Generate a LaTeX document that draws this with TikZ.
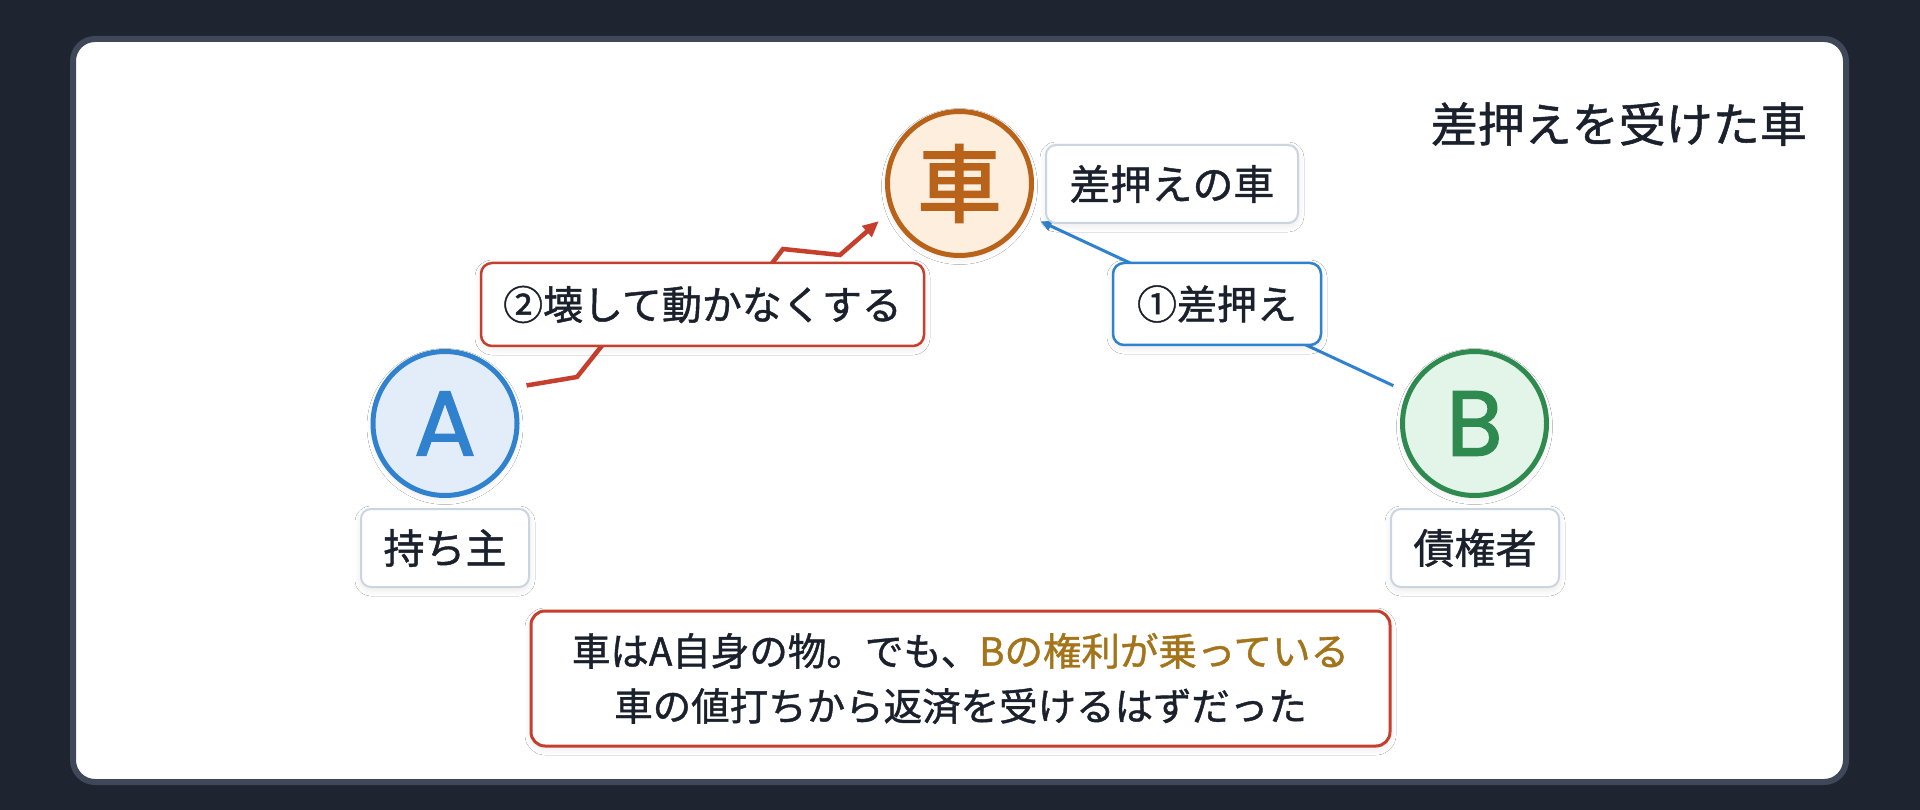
\documentclass[tikz,border=0pt]{standalone}
\usepackage{fontspec}
\setmainfont{Noto Sans CJK JP}[UprightFeatures={FakeBold=1.1}]
\newfontfamily\circcjk{Noto Sans CJK JP}[FakeBold=2.6]
\newfontfamily\circlat{Poppins}[FakeBold=1.6]
\usetikzlibrary{calc,arrows.meta,shadows.blur}
\definecolor{bgdark}{HTML}{1E2530}
\definecolor{panelbd}{HTML}{3E4858}
\definecolor{ink}{HTML}{1A202C}
\definecolor{carc}{HTML}{B9621A}
\definecolor{carfill}{HTML}{FDEEDD}
\definecolor{bluec}{HTML}{3182CE}
\definecolor{bluefill}{HTML}{E3EDF9}
\definecolor{greenc}{HTML}{2F8A50}
\definecolor{greenfill}{HTML}{E3F4E8}
\definecolor{redc}{HTML}{C53F2C}
\definecolor{labelbd}{HTML}{CBD5E1}
\definecolor{goldc}{HTML}{A3741A}
\tikzset{
  softshadow/.style={blur shadow={shadow blur steps=6, shadow xshift=0pt, shadow yshift=-3pt, shadow blur radius=6pt, shadow opacity=9}},
  circ/.style={circle, minimum size=144pt, inner sep=0pt, line width=5pt, softshadow},
  lbl/.style={rectangle, rounded corners=10pt, draw=labelbd, line width=2pt, fill=white, text=ink, font=\fontsize{41}{49}\selectfont, inner sep=0pt, softshadow},
  edgelbl/.style={rectangle, rounded corners=11pt, line width=2.5pt, fill=white, text=ink, font=\fontsize{40}{48}\selectfont, inner sep=0pt, softshadow},
  blueline/.style={draw=bluec, line width=3pt, -{Triangle[length=11pt,width=10pt]}},
  redline/.style={draw=redc, line width=4.5pt, -{Triangle[length=16pt,width=14pt]}},
}
\begin{document}
\begin{tikzpicture}[x=1pt,y=-1pt]
\useasboundingbox (0,0) rectangle (1920,810);
\fill[bgdark] (0,0) rectangle (1920,810);
\draw[panelbd, line width=6pt, fill=white, rounded corners=22pt] (73,39) rectangle (1846,782);

% title
\node[anchor=east, text=ink, font=\fontsize{47}{52}\selectfont, inner sep=0pt] (title) at (1807,124) {差押えを受けた車};

% circles
\node[circ, draw=carc, fill=carfill, text=carc, font=\circcjk\fontsize{84}{84}\selectfont] (car) at (959.5,183.5) {車};
\node[circ, draw=bluec, fill=bluefill, text=bluec, font=\circlat\fontsize{92}{92}\selectfont] (A) at (445,423.5) {A};
\node[circ, draw=greenc, fill=greenfill, text=greenc, font=\circlat\fontsize{92}{92}\selectfont] (B) at (1474.5,423.5) {B};

% connectors
\draw[blueline, shorten <=15pt, shorten >=15pt] (B) -- (car);
\coordinate (rs) at ($(A)!90pt!(car)$);
\coordinate (re) at ($(car)!89pt!(A)$);
\draw[redline] (rs) -- (577,377) -- (620,323) -- (750,292) -- (783,249) -- (840,255) -- (re);

% labels
\node[lbl, minimum width=252pt, minimum height=78pt] (carlbl) at (1172,184) {差押えの車};
\node[lbl, minimum width=168pt, minimum height=78pt] (Albl) at (445,548) {持ち主};
\node[lbl, minimum width=168pt, minimum height=78pt] (Blbl) at (1475,548) {債権者};
\node[edgelbl, draw=bluec, minimum width=208pt, minimum height=82pt] (e1) at (1217,304) {①差押え};
\node[edgelbl, draw=redc, minimum width=443pt, minimum height=83pt] (e2) at (702.5,304.5) {②壊して動かなくする};

% note
\node[rectangle, rounded corners=14pt, draw=redc, line width=3pt, fill=white, text=ink, minimum width=859pt, minimum height=135pt, align=center, inner sep=0pt, font=\fontsize{38.5}{55}\selectfont, softshadow] (note) at (960.5,678.5)
  {車はA自身の物。でも、\textcolor{goldc}{Bの権利が乗っている}\\車の値打ちから返済を受けるはずだった};
\end{tikzpicture}
\end{document}
